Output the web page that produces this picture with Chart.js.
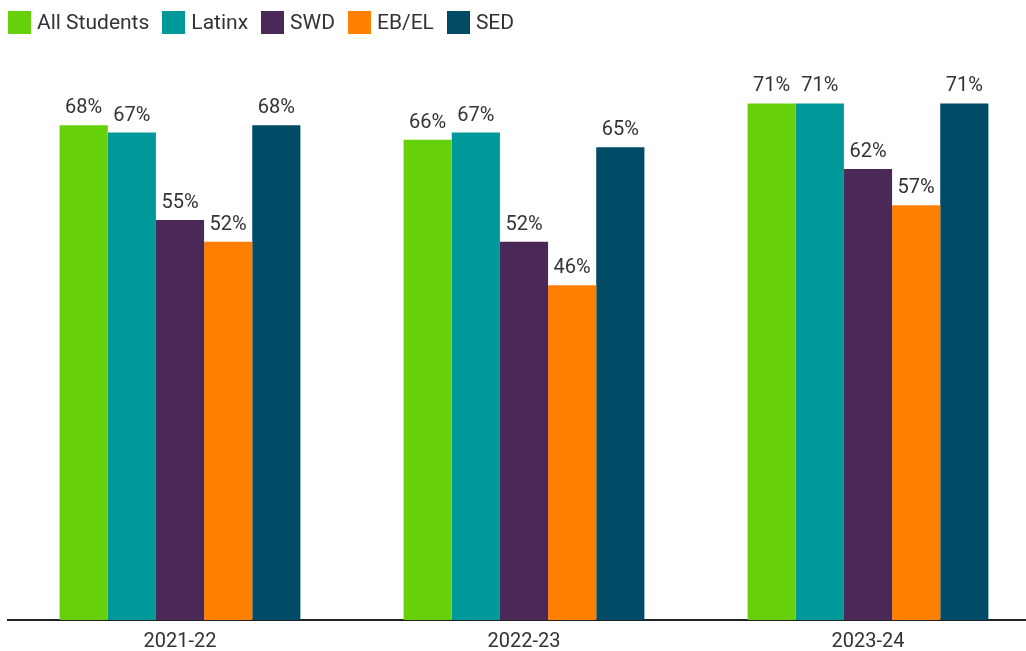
<!DOCTYPE html>
<html lang="en">
<head>
    <meta charset="UTF-8">
    <title>Rates by Student Group</title>
    <script src="https://cdn.jsdelivr.net/npm/chart.js@4"></script>
    <style>
        html, body {
            margin: 0;
            padding: 0;
            background: #fff;
            overflow: hidden;
            font-family: Roboto, sans-serif;
        }
        .legend {
            position: absolute;
            left: 8px;
            top: 11px;
            display: flex;
            align-items: center;
            z-index: 2;
        }
        .legend-item {
            display: flex;
            align-items: center;
            margin-right: 13px;
            font-size: 21px;
            color: #333;
            line-height: 23px;
        }
        .legend-box {
            width: 23px;
            height: 23px;
            margin-right: 6px;
        }
        .chart-container {
            position: relative;
            width: 1040px;
            height: 651px;
        }
    </style>
</head>
<body>
    <div class="legend" id="legend"></div>
    <div class="chart-container">
        <canvas id="myChart"></canvas>
    </div>

    <script>
        const years = ['2021-22', '2022-23', '2023-24'];
        const groups = ['All Students', 'Latinx', 'SWD', 'EB/EL', 'SED'];
        const colors = ['#66d10a', '#009999', '#4a2858', '#ff7f00', '#004c66'];

        const allStudents = [68, 66, 71];
        const latinx = [67, 67, 71];
        const swd = [55, 52, 62];
        const ebel = [52, 46, 57];
        const sed = [68, 65, 71];

        const seriesValues = [allStudents, latinx, swd, ebel, sed];

        // legend in html so the boxes sit exactly like the original
        const legendEl = document.getElementById('legend');
        groups.forEach((g, i) => {
            const item = document.createElement('div');
            item.className = 'legend-item';
            item.innerHTML = `<span class="legend-box" style="background:${colors[i]}"></span>${g}`;
            legendEl.appendChild(item);
        });

        // values written above every bar
        const barLabels = {
            id: 'barLabels',
            afterDatasetsDraw(chart) {
                const ctx = chart.ctx;
                ctx.save();
                ctx.font = '20px Roboto';
                ctx.fillStyle = '#333';
                ctx.textAlign = 'center';
                ctx.textBaseline = 'alphabetic';
                chart.data.datasets.forEach((ds, i) => {
                    chart.getDatasetMeta(i).data.forEach((bar, j) => {
                        ctx.fillText(ds.data[j] + '%', bar.x, bar.y - 12);
                    });
                });
                ctx.restore();
            }
        };

        const ctx = document.getElementById('myChart').getContext('2d');
        const chart = new Chart(ctx, {
            type: 'bar',
            data: {
                labels: years,
                datasets: groups.map((g, i) => ({
                    label: g,
                    data: seriesValues[i],
                    backgroundColor: colors[i],
                    borderWidth: 0,
                    barPercentage: 1,
                    categoryPercentage: 0.7
                }))
            },
            options: {
                responsive: true,
                maintainAspectRatio: false,
                animation: false,
                layout: {
                    padding: { left: 8, right: 0, top: 38, bottom: 0 }
                },
                plugins: {
                    legend: { display: false },
                    tooltip: { enabled: false }
                },
                scales: {
                    x: {
                        grid: { display: false, drawTicks: false },
                        border: { display: true, color: '#222', width: 2 },
                        ticks: {
                            color: '#333',
                            padding: 10,
                            font: { family: 'Roboto', size: 20 }
                        },
                        afterFit(scale) {
                            scale.height = 31;
                        }
                    },
                    y: {
                        display: false,
                        min: 0,
                        max: 80
                    }
                }
            },
            plugins: [barLabels]
        });
    </script>
</body>
</html>
